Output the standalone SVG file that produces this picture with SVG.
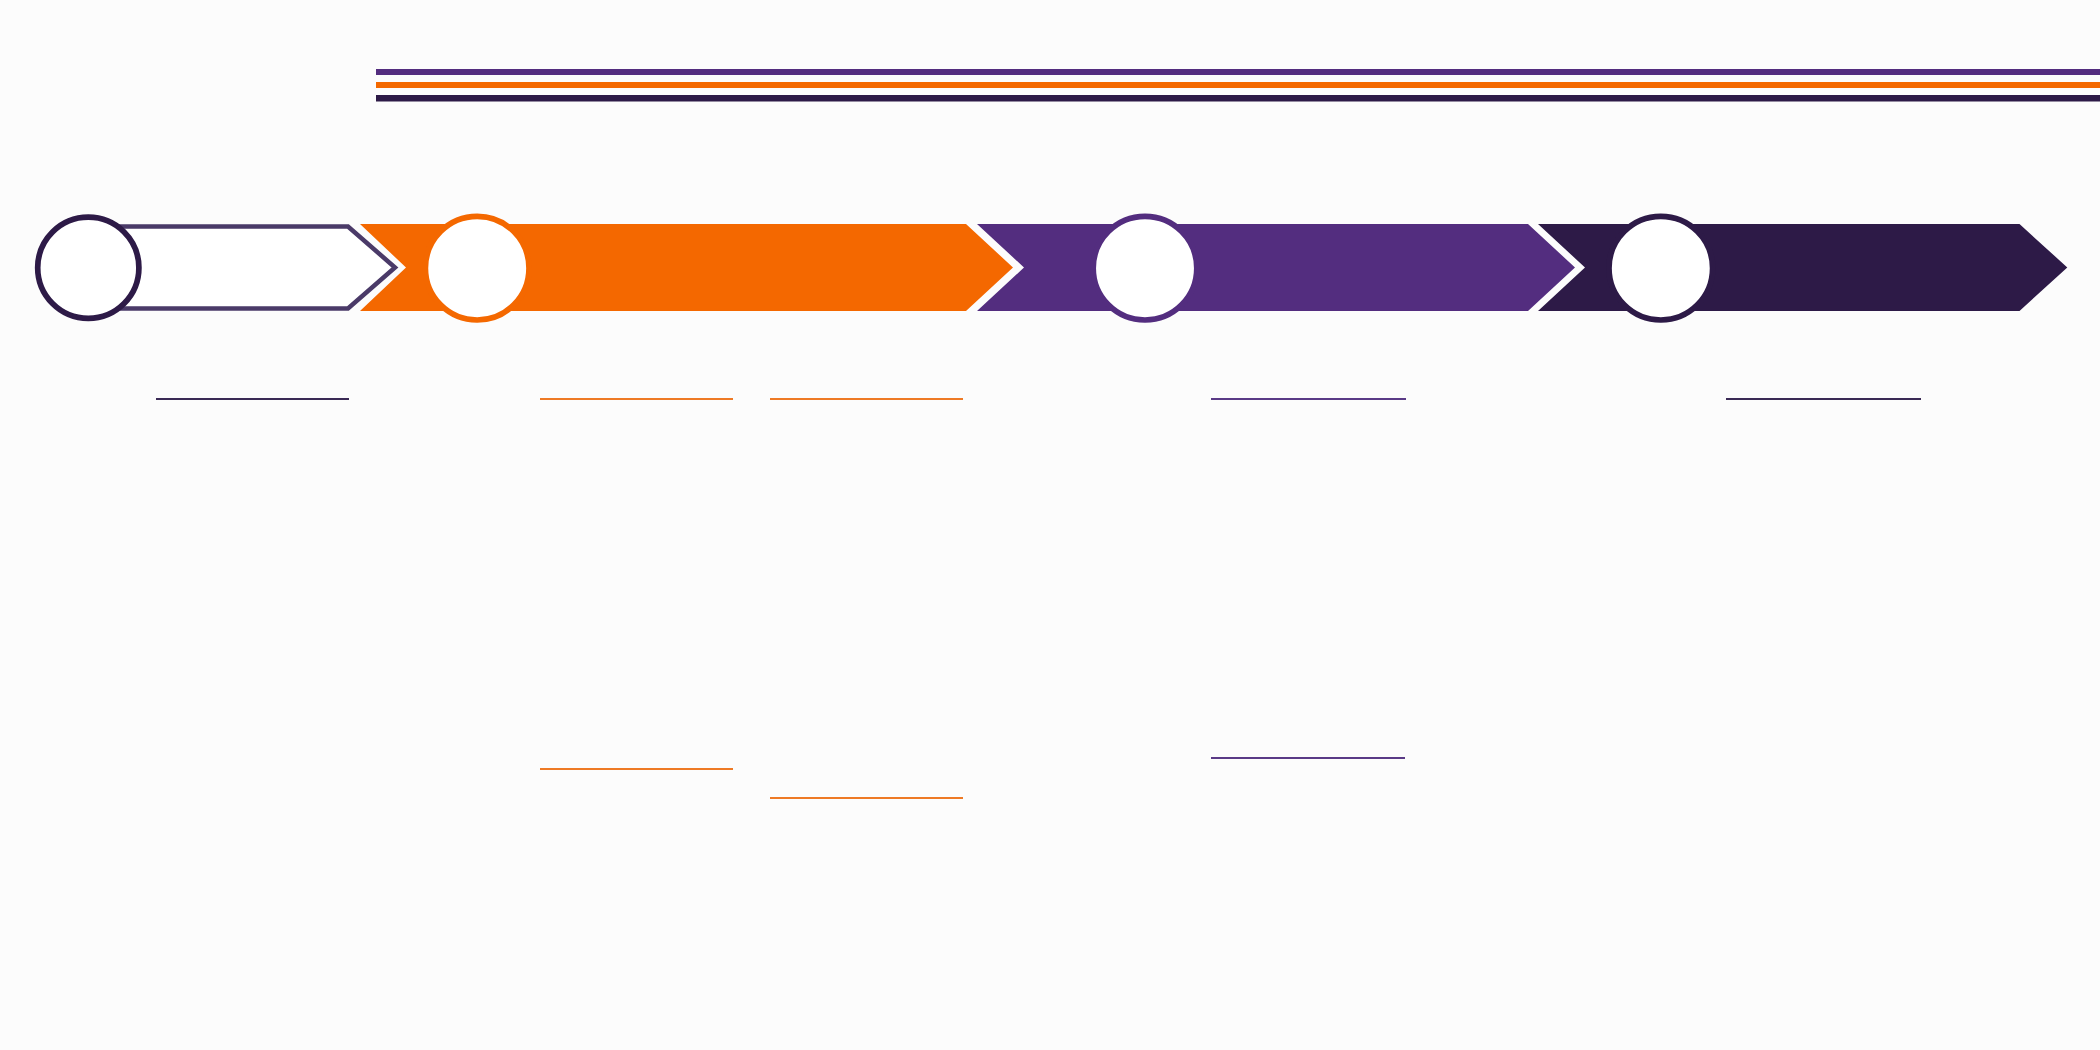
<svg xmlns="http://www.w3.org/2000/svg" width="2100" height="1050" viewBox="0 0 2100 1050">
<style>
.bar{stroke:none}
.o{fill:#F46800}
.p{fill:#532D7F}
.d{fill:#2D1A47}
.ring{fill:#FFFFFF;stroke-width:5.7}
.ul{stroke-width:2.2;fill:none}
</style>
<rect x="0" y="0" width="2100" height="1050" fill="#FCFCFC"/>
<g id="header-lines">
<rect class="bar p" x="376" y="69" width="1724" height="6"/>
<rect class="bar o" x="376" y="82" width="1724" height="6"/>
<rect class="bar d" x="376" y="95" width="1724" height="6.5"/>
</g>
<g id="step1">
<path d="M90,226.5 L348,226.5 L395,267.5 L348,308.5 L90,308.5" fill="#FFFFFF" stroke="#4A3A68" stroke-width="4.5" stroke-linejoin="miter"/>
<circle class="ring" cx="88.3" cy="267.8" r="50.6" stroke="#2D1A47"/>
</g>
<g id="step2">
<path class="o" d="M360,224 L966,224 L1013,267.5 L966,311 L360,311 L406,267.5 Z"/>
<circle class="ring" cx="477.2" cy="268.2" r="51.8" stroke="#F46800"/>
</g>
<g id="step3">
<path class="p" d="M977,224 L1528,224 L1575,267.5 L1528,311 L977,311 L1024,267.5 Z"/>
<circle class="ring" cx="1145" cy="268.2" r="51.8" stroke="#532D7F"/>
</g>
<g id="step4">
<path class="d" d="M1538,224 L2019.5,224 L2067.3,267.5 L2019.5,311 L1538,311 L1585,267.5 Z"/>
<circle class="ring" cx="1660.8" cy="268.2" r="51.8" stroke="#2D1A47"/>
</g>
<g id="underlines">
<line class="ul" x1="156" y1="399" x2="349" y2="399" stroke="#3A2A55"/>
<line class="ul" x1="540" y1="399" x2="733" y2="399" stroke="#EE7A25"/>
<line class="ul" x1="770" y1="399" x2="963" y2="399" stroke="#EE7A25"/>
<line class="ul" x1="1211" y1="399" x2="1406" y2="399" stroke="#5A3A86"/>
<line class="ul" x1="1726" y1="399" x2="1921" y2="399" stroke="#3A2A55"/>
<line class="ul" x1="540" y1="769" x2="733" y2="769" stroke="#EE7A25"/>
<line class="ul" x1="770" y1="798" x2="963" y2="798" stroke="#EE7A25"/>
<line class="ul" x1="1211" y1="758" x2="1405" y2="758" stroke="#5A3A86"/>
</g>
<g id="connectors"/>
</svg>
